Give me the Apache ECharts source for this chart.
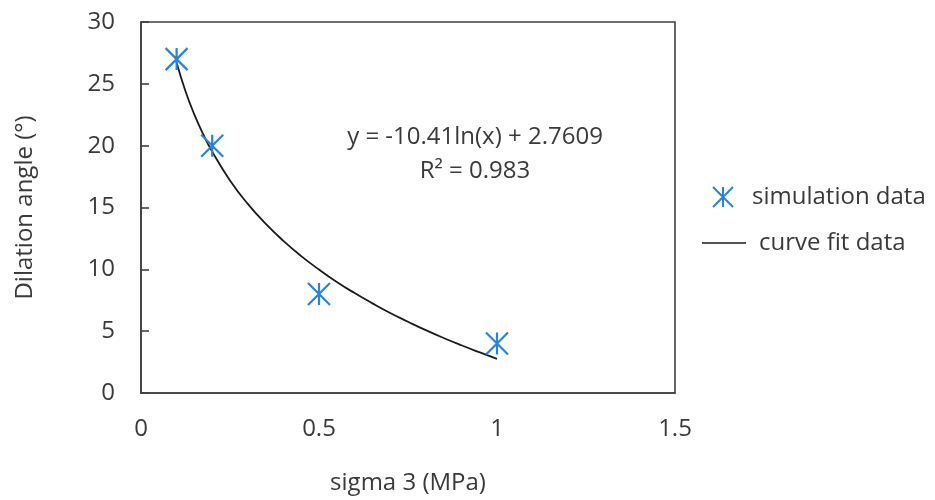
<!DOCTYPE html>
<html><head><meta charset="utf-8">
<script src="https://cdn.jsdelivr.net/npm/echarts@6/dist/echarts.min.js"></script>
<style>html,body{margin:0;padding:0;background:#fff}#c{width:935px;height:500px}</style>
</head><body><div id="c"></div>
<script>
var simX = [0.1, 0.2, 0.5, 1.0];
var simY = [27, 20, 8, 4];
var fitX = [0.1, 0.125, 0.15, 0.175, 0.2, 0.25, 0.3, 0.35, 0.4, 0.45, 0.5, 0.55, 0.6, 0.65, 0.7, 0.75, 0.8, 0.85, 0.9, 0.95, 1.0];
var fitY = [26.73, 24.4, 22.51, 20.91, 19.52, 17.19, 15.29, 13.69, 12.30, 11.07, 9.98, 8.98, 8.08, 7.25, 6.47, 5.76, 5.08, 4.45, 3.86, 3.30, 2.76];
var xTicks = [0, 0.5, 1, 1.5];
var yTicks = [0, 5, 10, 15, 20, 25, 30];
var seriesNames = ['simulation data', 'curve fit data'];
var eqText = 'y = -10.41ln(x) + 2.7609';
var r2Text = 'R² = 0.983';

var star = 'path://M-1,-1L1,1M-1,1L1,-1M0,-1L0,1';
var blue = '#2b83d6';
var txt = '#3a3a3a';
var font = 'Open Sans';
var fs = 24;

var chart = echarts.init(document.getElementById('c'));
chart.setOption({
  animation: false,
  backgroundColor: '#fff',
  textStyle: {fontFamily: font, color: txt},
  grid: {left: 141, right: 260, top: 22, bottom: 106, show: true, borderColor: '#404040', borderWidth: 1.6},
  xAxis: {
    type: 'value', min: xTicks[0], max: xTicks[xTicks.length - 1], interval: 0.5,
    name: 'sigma 3 (MPa)', nameLocation: 'middle', nameGap: 78,
    nameTextStyle: {fontFamily: font, fontSize: fs, color: txt},
    axisLine: {show: true, lineStyle: {color: '#404040', width: 1.6}},
    axisTick: {show: false},
    splitLine: {show: false},
    axisLabel: {fontFamily: font, fontSize: fs, color: txt, margin: 24}
  },
  yAxis: {
    type: 'value', min: yTicks[0], max: yTicks[yTicks.length - 1], interval: 5,
    name: 'Dilation angle (°)', nameLocation: 'middle', nameGap: 104, nameRotate: 90,
    nameTextStyle: {fontFamily: font, fontSize: fs, color: txt},
    axisLine: {show: true, lineStyle: {color: '#404040', width: 1.6}},
    axisTick: {show: true, inside: true, length: 8, lineStyle: {color: '#404040', width: 1.6}},
    splitLine: {show: false},
    axisLabel: {fontFamily: font, fontSize: fs, color: txt, margin: 26}
  },
  legend: [{
    data: [{name: seriesNames[0], icon: star}],
    orient: 'vertical', left: 707, top: 180, itemWidth: 20, itemHeight: 20, itemGap: 10,
    textStyle: {fontFamily: font, fontSize: fs, color: txt, padding: [0, 0, 0, 14]}
  }, {
    data: [{name: seriesNames[1], icon: 'rect'}],
    orient: 'vertical', left: 697, top: 226, itemWidth: 44, itemHeight: 1.6, itemGap: 10,
    textStyle: {fontFamily: font, fontSize: fs, color: txt, padding: [0, 0, 0, 8]}
  }],
  graphic: [
    {type: 'text', position: [475, 137], style: {text: eqText, font: fs + 'px "Open Sans"', fill: txt, textAlign: 'center', textVerticalAlign: 'middle'}},
    {type: 'text', position: [475, 171], style: {text: r2Text, font: fs + 'px "Open Sans"', fill: txt, textAlign: 'center', textVerticalAlign: 'middle'}}
  ],
  series: [{
    name: seriesNames[1], type: 'line', smooth: true, showSymbol: false, symbol: 'none',
    data: fitX.map(function (x, i) { return [x, fitY[i]]; }),
    lineStyle: {color: '#1a1a1a', width: 1.8},
    itemStyle: {color: '#1a1a1a'},
    z: 2
  }, {
    name: seriesNames[0], type: 'scatter', symbol: star, symbolSize: 22,
    data: simX.map(function (x, i) { return [x, simY[i]]; }),
    itemStyle: {color: 'rgba(0,0,0,0)', borderColor: blue, borderWidth: 2.2, opacity: 1},
    z: 3
  }]
});
</script></body></html>
